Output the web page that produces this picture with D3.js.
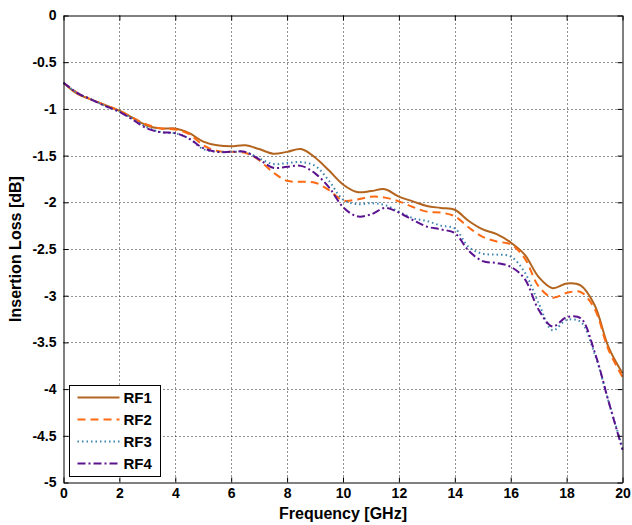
<!DOCTYPE html>
<html>
<head>
<meta charset="utf-8">
<script src="https://cdn.jsdelivr.net/npm/d3@7"></script>
<style>
  html, body { margin: 0; padding: 0; background: #fff; }
  svg { display: block; }
  text { font-family: Arial, "Liberation Sans", sans-serif; fill: #000; }
</style>
</head>
<body>
<svg id="chart" width="632" height="525"></svg>
<script>
// Frequency sweep points [GHz]
const freq = [0,0.5,1,1.5,2,2.5,3,3.5,4,4.5,5,5.5,6,6.5,7,7.5,8,8.5,9,9.5,10,
              10.5,11,11.5,12,12.5,13,13.5,14,14.5,15,15.5,16,16.5,17,17.5,18,18.5,19,19.5,20];

// Insertion loss per RF path [dB]
const rf1 = [-0.72,-0.84,-0.90,-0.96,-1.02,-1.10,-1.18,-1.21,-1.21,-1.26,-1.35,-1.39,-1.40,-1.39,-1.43,-1.48,-1.46,-1.43,-1.52,-1.66,-1.81,
             -1.89,-1.88,-1.86,-1.94,-1.99,-2.04,-2.06,-2.08,-2.20,-2.29,-2.34,-2.43,-2.56,-2.80,-2.92,-2.87,-2.89,-3.10,-3.55,-3.83];
const rf2 = [-0.72,-0.83,-0.90,-0.96,-1.02,-1.10,-1.17,-1.21,-1.22,-1.27,-1.39,-1.45,-1.46,-1.47,-1.55,-1.68,-1.77,-1.78,-1.79,-1.87,-1.98,
             -1.97,-1.94,-1.95,-1.99,-2.05,-2.10,-2.11,-2.15,-2.27,-2.37,-2.42,-2.45,-2.60,-2.90,-3.02,-2.97,-2.96,-3.14,-3.58,-3.87];
const rf3 = [-0.72,-0.83,-0.90,-0.97,-1.03,-1.11,-1.20,-1.25,-1.26,-1.32,-1.43,-1.46,-1.46,-1.46,-1.53,-1.59,-1.58,-1.57,-1.61,-1.77,-1.97,
             -2.02,-2.01,-2.03,-2.10,-2.17,-2.20,-2.25,-2.28,-2.48,-2.55,-2.56,-2.58,-2.75,-3.08,-3.37,-3.26,-3.28,-3.62,-4.13,-4.63];
const rf4 = [-0.72,-0.83,-0.90,-0.97,-1.03,-1.12,-1.21,-1.25,-1.26,-1.32,-1.42,-1.46,-1.46,-1.46,-1.54,-1.63,-1.62,-1.61,-1.69,-1.84,-2.05,
             -2.15,-2.13,-2.06,-2.11,-2.19,-2.26,-2.29,-2.33,-2.52,-2.63,-2.65,-2.69,-2.82,-3.15,-3.33,-3.23,-3.24,-3.60,-4.13,-4.65];

const seriesNames = ["RF1", "RF2", "RF3", "RF4"];
const seriesValues = [rf1, rf2, rf3, rf4];
const seriesColors = ["#B3641E", "#FF6A13", "#3C84AE", "#5B1290"];
const seriesDash = [null, "8,5", "1.5,3", "8,3,2,3"];

const xTicks = [0,2,4,6,8,10,12,14,16,18,20];
const yTicks = [0,-0.5,-1,-1.5,-2,-2.5,-3,-3.5,-4,-4.5,-5];

const svg = d3.select("#chart");
const m = { left: 63.5, top: 15.5, right: 622.5, bottom: 482.5 };

const x = d3.scaleLinear().domain([0, 20]).range([m.left, m.right]);
const y = d3.scaleLinear().domain([-5, 0]).range([m.bottom, m.top]);

// dotted grid
const grid = svg.append("g");
grid.selectAll("line.vx").data(xTicks.slice(1, -1)).enter().append("line")
  .attr("x1", d => Math.round(x(d)) + 0.5).attr("x2", d => Math.round(x(d)) + 0.5)
  .attr("y1", m.top).attr("y2", m.bottom)
  .attr("stroke", "#222").attr("stroke-width", 1).attr("stroke-dasharray", "1,3");
grid.selectAll("line.hy").data(yTicks.slice(1, -1)).enter().append("line")
  .attr("y1", d => Math.round(y(d)) + 0.5).attr("y2", d => Math.round(y(d)) + 0.5)
  .attr("x1", m.left).attr("x2", m.right)
  .attr("stroke", "#222").attr("stroke-width", 1).attr("stroke-dasharray", "1,3");

// curves
const line = d3.line()
  .x(d => x(d[0]))
  .y(d => y(d[1]))
  .curve(d3.curveCatmullRom.alpha(0.5));

const plot = svg.append("g");
seriesValues.forEach((vals, i) => {
  plot.append("path")
    .datum(freq.map((f, k) => [f, vals[k]]))
    .attr("d", line)
    .attr("fill", "none")
    .attr("stroke", seriesColors[i])
    .attr("stroke-width", 2)
    .attr("stroke-dasharray", seriesDash[i]);
});

// frame with inward ticks on all sides
const tickLen = 5;
const axisFont = "bold 14px Arial, 'Liberation Sans', sans-serif";
const plainNum = d => String(d); // ASCII hyphen for negatives

const axBottom = svg.append("g").attr("transform", `translate(0,${m.bottom})`)
  .call(d3.axisBottom(x).tickValues(xTicks).tickSizeInner(-tickLen).tickSizeOuter(0).tickPadding(6).tickFormat(plainNum));
const axTop = svg.append("g").attr("transform", `translate(0,${m.top})`)
  .call(d3.axisTop(x).tickValues(xTicks).tickSizeInner(-tickLen).tickSizeOuter(0).tickFormat(""));
const axLeft = svg.append("g").attr("transform", `translate(${m.left},0)`)
  .call(d3.axisLeft(y).tickValues(yTicks).tickSizeInner(-tickLen).tickSizeOuter(0).tickPadding(7).tickFormat(plainNum));
const axRight = svg.append("g").attr("transform", `translate(${m.right},0)`)
  .call(d3.axisRight(y).tickValues(yTicks).tickSizeInner(-tickLen).tickSizeOuter(0).tickFormat(""));

[axBottom, axTop, axLeft, axRight].forEach(g => {
  g.select(".domain").attr("stroke", "#000").attr("stroke-width", 1);
  g.selectAll(".tick line").attr("stroke", "#000");
  g.selectAll("text").style("font", axisFont).attr("fill", "#000");
});

// axis titles
const titleFont = "bold 16px Arial, 'Liberation Sans', sans-serif";
svg.append("text")
  .attr("x", (m.left + m.right) / 2).attr("y", 519)
  .attr("text-anchor", "middle")
  .style("font", titleFont)
  .text("Frequency [GHz]");
svg.append("text")
  .attr("transform", `translate(21,${(m.top + m.bottom) / 2}) rotate(-90)`)
  .attr("text-anchor", "middle")
  .style("font", titleFont)
  .text("Insertion Loss [dB]");

// legend
const lg = svg.append("g").attr("transform", "translate(69.5,385.5)");
lg.append("rect").attr("width", 91).attr("height", 91)
  .attr("fill", "#fff").attr("stroke", "#000").attr("stroke-width", 1);
seriesNames.forEach((name, i) => {
  const yy = 12 + i * 22;
  lg.append("line")
    .attr("x1", 8).attr("x2", 50).attr("y1", yy).attr("y2", yy)
    .attr("stroke", seriesColors[i]).attr("stroke-width", 2)
    .attr("stroke-dasharray", seriesDash[i]);
  lg.append("text")
    .attr("x", 54).attr("y", yy + 5.5)
    .style("font", "bold 15px Arial, 'Liberation Sans', sans-serif")
    .text(name);
});
</script>
</body>
</html>
